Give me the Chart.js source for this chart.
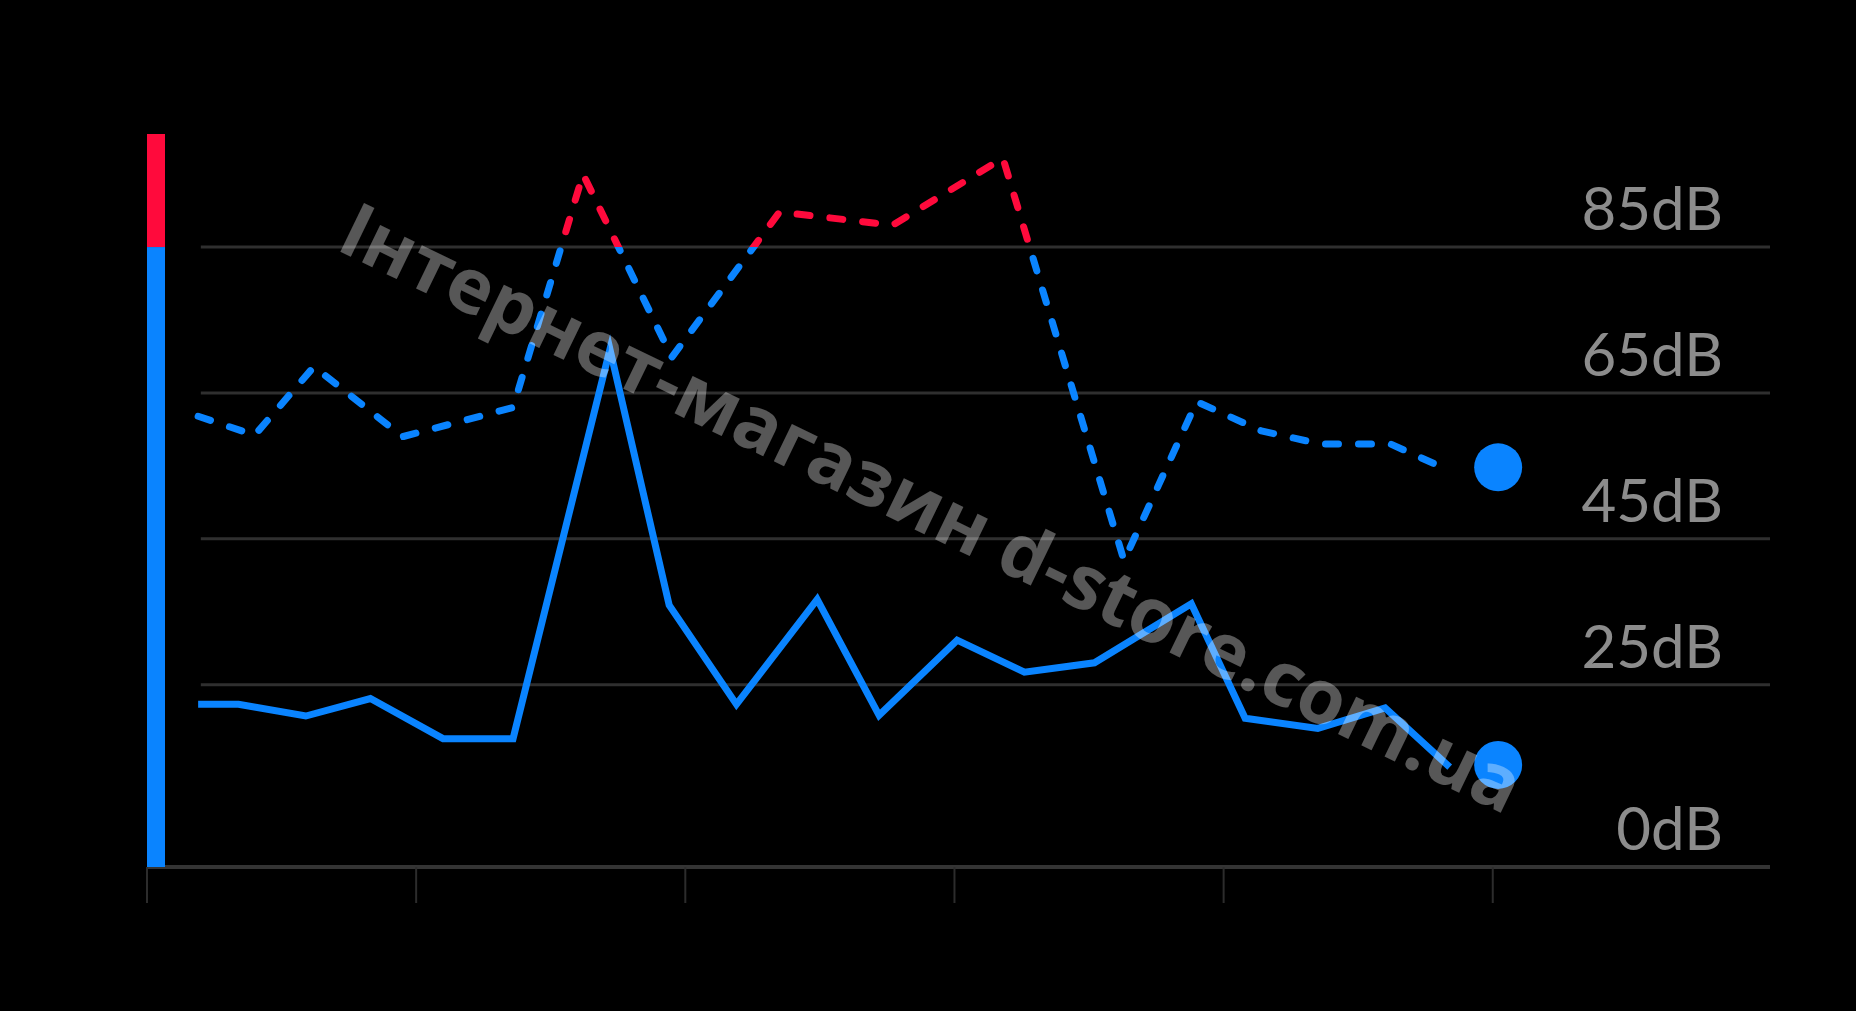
<!DOCTYPE html>
<html>
<head>
<meta charset="utf-8">
<script src="https://cdn.jsdelivr.net/npm/chart.js@4.4.1/dist/chart.umd.min.js"></script>
<style>
  html, body { margin: 0; background: #000; }
  canvas { display: block; }
</style>
</head>
<body>
<canvas id="noiseChart" width="1856" height="1011"></canvas>
<script>
// x positions are in bottom-tick units (ticks at 0..5), values in dB
const peakX  = [0.19, 0.40, 0.62, 0.95, 1.36, 1.62, 1.95, 2.35, 2.77, 3.18, 3.63, 3.90, 4.14, 4.36, 4.62, 4.83];
const peakDb = [61.8, 59.2, 68.6, 59.0, 63.0, 95.0, 69.9, 89.8, 88.0, 97.2, 42.0, 63.8, 59.8, 58.0, 58.0, 54.5];

const avgX  = [0.19, 0.34, 0.59, 0.83, 1.10, 1.36, 1.72, 1.94, 2.19, 2.49, 2.72, 3.01, 3.26, 3.52, 3.88, 4.08, 4.35, 4.60, 4.84];
const avgDb = [22.3, 22.3, 20.7, 23.1, 17.6, 17.6, 71.0, 35.9, 22.3, 36.7, 20.8, 31.1, 26.7, 28.0, 36.1, 20.4, 19.0, 21.8, 13.7];

const nowX    = [5.02, 5.02];
const nowDb   = [54.8, 14.0];

const tickDb  = [0, 25, 45, 65, 85];
const tickX   = [0, 1, 2, 3, 4, 5];
const limitDb = 85;
const watermark = 'Інтернет-магазин d-store.com.ua';

const BLUE = '#0a84ff';
const RED = '#ff0a3c';
const X_MAX = 6.03;
const Y_MAX = 100.5;
const GRID_START = 0.2;

function thresholdColor(context) {
  const chart = context.chart;
  const area = chart.chartArea;
  if (!area) return BLUE;
  const y = chart.scales.y;
  const f = (y.getPixelForValue(limitDb) - area.top) / (area.bottom - area.top);
  const g = chart.ctx.createLinearGradient(0, area.top, 0, area.bottom);
  g.addColorStop(0, RED);
  g.addColorStop(f, RED);
  g.addColorStop(f, BLUE);
  g.addColorStop(1, BLUE);
  return g;
}

const decor = {
  id: 'decor',
  beforeDraw(chart) {
    const c = chart.ctx;
    c.save();
    c.fillStyle = '#000';
    c.fillRect(0, 0, chart.width, chart.height);
    c.restore();
  },
  beforeDatasetsDraw(chart) {
    const c = chart.ctx;
    const area = chart.chartArea;
    const x = chart.scales.x, y = chart.scales.y;
    const y0 = y.getPixelForValue(0);
    c.save();

    // horizontal grid
    c.strokeStyle = '#2f2f2f';
    c.lineWidth = 3;
    const gx = x.getPixelForValue(GRID_START);
    tickDb.forEach(v => {
      if (v === 0) return;
      const py = y.getPixelForValue(v);
      c.beginPath(); c.moveTo(gx, py); c.lineTo(area.right, py); c.stroke();
    });

    // bottom axis and ticks
    c.strokeStyle = '#343434';
    c.lineWidth = 4;
    c.beginPath(); c.moveTo(area.left, y0); c.lineTo(area.right, y0); c.stroke();
    c.strokeStyle = '#2c2c2c';
    c.lineWidth = 2;
    tickX.forEach(v => {
      const px = x.getPixelForValue(v);
      c.beginPath(); c.moveTo(px, y0); c.lineTo(px, y0 + 36); c.stroke();
    });

    // dB labels
    c.fillStyle = '#8c8c8c';
    c.font = '60px Lato';
    c.textAlign = 'right';
    c.textBaseline = 'alphabetic';
    tickDb.forEach(v => c.fillText(v + 'dB', area.right - 47, y.getPixelForValue(v) - 17));

    // level bar on the left
    const bx = x.getPixelForValue(0);
    const yl = y.getPixelForValue(limitDb);
    c.fillStyle = RED;
    c.fillRect(bx, y.getPixelForValue(Y_MAX), 18, yl - y.getPixelForValue(Y_MAX));
    c.fillStyle = BLUE;
    c.fillRect(bx, yl, 18, y0 - yl);
    c.restore();
  },
  afterDraw(chart) {
    const c = chart.ctx;
    c.save();
    c.translate(920, 532);
    c.rotate(25.8 * Math.PI / 180);
    c.font = 'bold 76px "Open Sans"';
    c.textAlign = 'center';
    c.textBaseline = 'alphabetic';
    c.fillStyle = 'rgba(255,255,255,0.34)';
    c.fillText(watermark, 0, 0);
    c.restore();
  }
};

new Chart(document.getElementById('noiseChart').getContext('2d'), {
  type: 'line',
  data: {
    datasets: [
      {
        label: 'Peak',
        data: peakX.map((v, i) => ({ x: v, y: peakDb[i] })),
        borderColor: thresholdColor,
        borderWidth: 7,
        borderDash: [13, 20],
        borderCapStyle: 'round',
        borderJoinStyle: 'round',
        pointRadius: 0,
        tension: 0
      },
      {
        label: 'Average',
        data: avgX.map((v, i) => ({ x: v, y: avgDb[i] })),
        borderColor: BLUE,
        borderWidth: 7,
        pointRadius: 0,
        tension: 0
      },
      {
        label: 'Now',
        data: nowX.map((v, i) => ({ x: v, y: nowDb[i] })),
        showLine: false,
        pointRadius: 24,
        pointBackgroundColor: BLUE,
        pointBorderWidth: 0
      }
    ]
  },
  options: {
    responsive: false,
    animation: false,
    devicePixelRatio: 1,
    clip: false,
    layout: { padding: { left: 147, right: 86, top: 134, bottom: 144 } },
    plugins: { legend: { display: false }, tooltip: { enabled: false } },
    scales: {
      x: { type: 'linear', min: 0, max: X_MAX, display: false },
      y: { min: 0, max: Y_MAX, display: false }
    }
  },
  plugins: [decor]
});
</script>
</body>
</html>
